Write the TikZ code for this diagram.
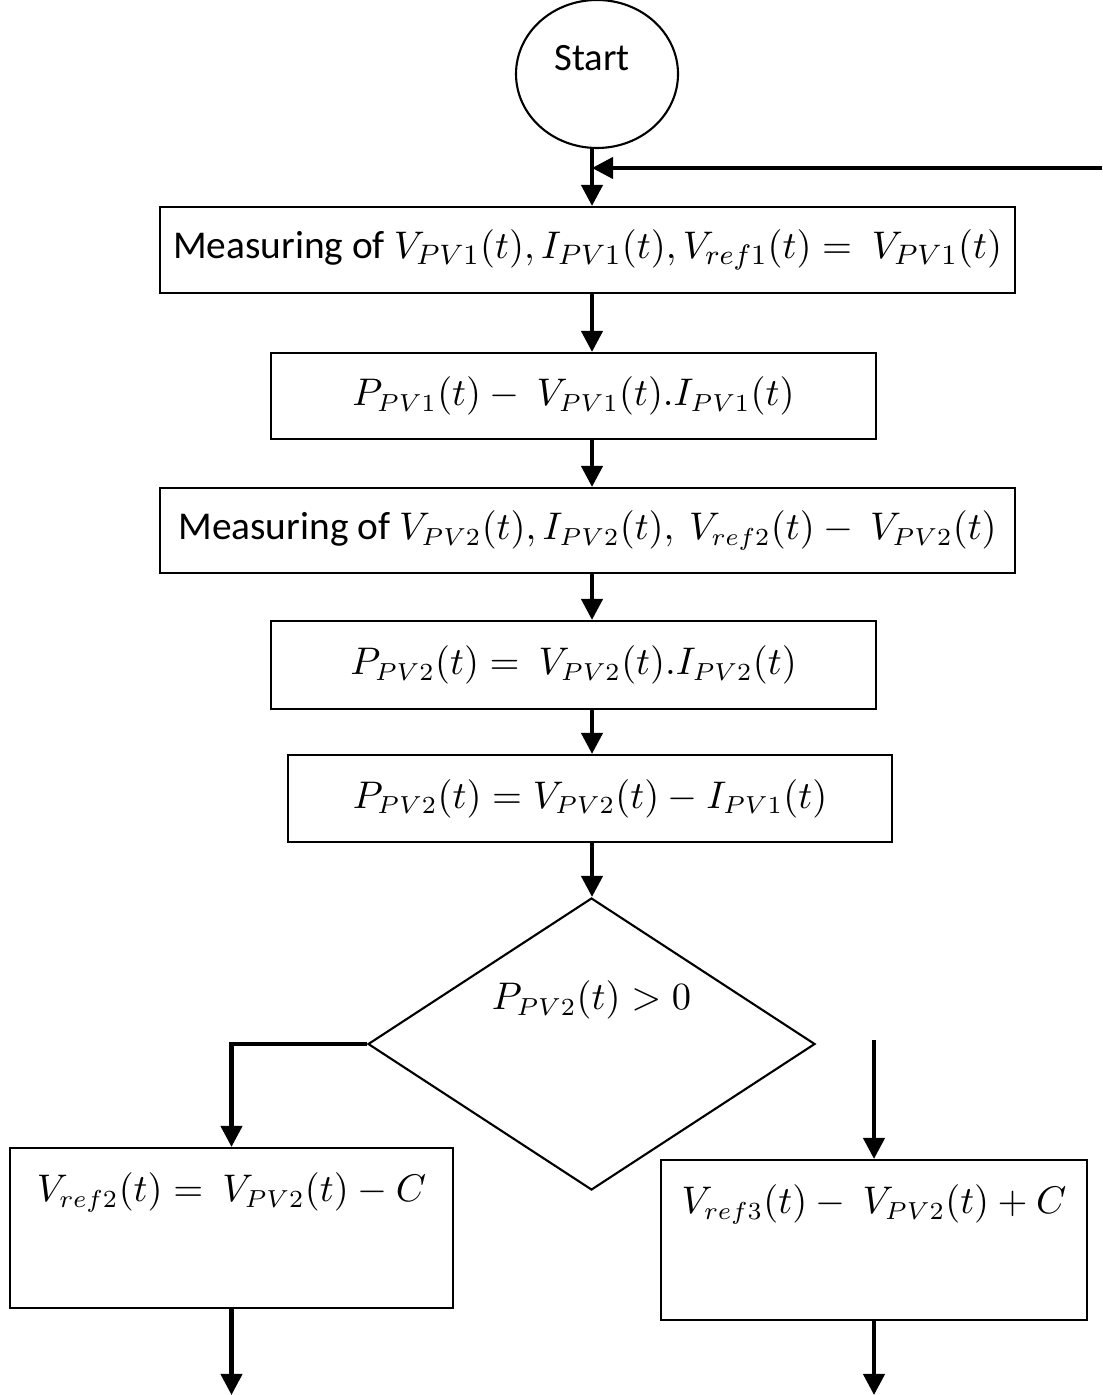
\documentclass[tikz,border=0pt]{standalone}
\usepackage{amsmath}
\usepackage{fontspec}
\setmainfont{Carlito}
\usetikzlibrary{calc,arrows.meta,shapes.geometric}

\begin{document}
\begin{tikzpicture}[x=0.01cm, y=-0.01cm, >={Triangle[length=6pt,width=6pt]},
    font=\fontsize{10.5}{13}\selectfont,
    stepbox/.style={draw, line width=0.6pt, rectangle, inner sep=0pt},
    flow/.style={->, line width=1.2pt}]
  \useasboundingbox (0,0) rectangle (1102,1395);
  % ---------------------------------------------------------------- start and the loop back
  \node[draw, line width=0.6pt, ellipse, minimum width=162*0.01cm, minimum height=148*0.01cm, inner sep=0pt]
    (start) at (597,74) {};
  \node[anchor=north, inner sep=0pt, font=\fontsize{11}{13}\selectfont] (starttext) at (592,45) {Start};
  \coordinate (spine) at (592,0);
  \coordinate (back) at (1102,168);
  % ---------------------------------------------------------------- measuring and power
  \node[stepbox, minimum width=855*0.01cm, minimum height=86*0.01cm] (meas1) at (587.5,250)
    {\fontsize{11.2}{13}\selectfont Measuring of $V_{PV1}(t), I_{PV1}(t), V_{ref1}(t) = \ V_{PV1}(t)$};
  \node[stepbox, minimum width=605*0.01cm, minimum height=86*0.01cm] (pow1) at (573.5,396)
    {$P_{PV1}(t) - \ V_{PV1}(t).I_{PV1}(t)$};
  \node[stepbox, minimum width=855*0.01cm, minimum height=85*0.01cm] (meas2) at (587.5,530.5)
    {\fontsize{11.2}{13}\selectfont Measuring of \fontsize{10.5}{13}\selectfont$V_{PV2}(t), I_{PV2}(t),\ V_{ref2}(t) - \ V_{PV2}(t)$};
  \node[stepbox, minimum width=605*0.01cm, minimum height=88*0.01cm] (pow2) at (573.5,665)
    {$P_{PV2}(t) = \ V_{PV2}(t).I_{PV2}(t)$};
  \node[stepbox, minimum width=604*0.01cm, minimum height=87*0.01cm] (diff) at (590,798.5)
    {$P_{PV2}(t) = V_{PV2}(t) - I_{PV1}(t)$};
  % ---------------------------------------------------------------- the test and its two branches
  \node[draw, line width=0.6pt, diamond, minimum width=447*0.01cm, minimum height=292*0.01cm, inner sep=0pt,
    label={[yshift=0.44cm]center:$P_{PV2}(t) > 0$}] (test) at (591.5,1044) {};
  \node[stepbox, minimum width=443*0.01cm, minimum height=160*0.01cm,
    label={[anchor=north, inner sep=0pt, yshift=-0.25cm]north:$V_{ref2}(t) = \ V_{PV2}(t) - C$}]
    (lower) at (231.5,1228) {};
  \node[stepbox, minimum width=426*0.01cm, minimum height=160*0.01cm,
    label={[anchor=north, inner sep=0pt, yshift=-0.25cm]north:$V_{ref3}(t) - \ V_{PV2}(t) + C$}]
    (raise) at (874,1240) {};
  \coordinate (rin) at (874,1040);
  \coordinate (end6) at (231.5,1395);
  \coordinate (end7) at (874,1395);
  % ---------------------------------------------------------------- connectors
  \draw[flow] (start.south -| spine) -- (meas1.north -| spine);
  \draw[flow] (back) -- (back -| spine);
  \draw[flow] (meas1.south -| spine) -- (pow1.north -| spine);
  \draw[flow] (pow1.south -| spine) -- (meas2.north -| spine);
  \draw[flow] (meas2.south -| spine) -- (pow2.north -| spine);
  \draw[flow] (pow2.south -| spine) -- (diff.north -| spine);
  \draw[flow] (diff.south -| spine) -- (test.north -| spine);
  \draw[flow] (test.west) -| (lower.north);
  \draw[flow] (rin) -- (raise.north);
  \draw[flow] (lower.south) -- (end6);
  \draw[flow] (raise.south) -- (end7);
\end{tikzpicture}
\end{document}
